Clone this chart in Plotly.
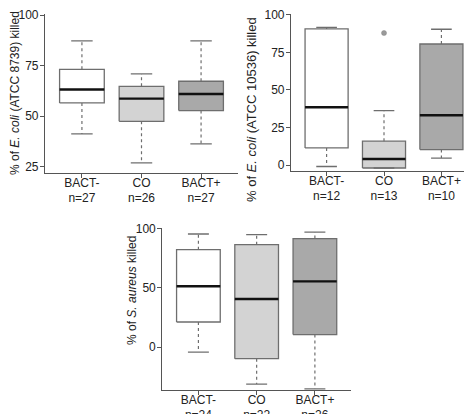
import plotly.graph_objects as go

groups = ["BACT-", "CO", "BACT+"]
fills = ["#ffffff", "#d3d3d3", "#a9a9a9"]

# Panel 1: E. coli ATCC 8739
p1_n = [27, 26, 27]
p1_low = [41.3, 27.0, 36.4]
p1_q1 = [56.6, 47.5, 52.8]
p1_med = [63.2, 58.7, 61.0]
p1_q3 = [73.2, 64.8, 67.3]
p1_high = [87.2, 70.9, 87.2]
p1_out = [[], [], []]

# Panel 2: E. coli ATCC 10536
p2_n = [12, 13, 10]
p2_low = [-0.8, -1.8, 4.8]
p2_q1 = [11.5, -1.8, 10.4]
p2_med = [38.5, 4.2, 33.2]
p2_q3 = [90.5, 16.0, 80.5]
p2_high = [91.6, 36.3, 90.3]
p2_out = [[], [87.8], []]

# Panel 3: S. aureus
p3_n = [24, 22, 26]
p3_low = [-4.0, -31.0, -35.0]
p3_q1 = [21.3, -9.6, 10.7]
p3_med = [51.4, 40.7, 55.6]
p3_q3 = [82.3, 86.5, 91.6]
p3_high = [95.5, 95.0, 97.0]
p3_out = [[], [], []]

yticks1 = [25, 50, 75, 100]
yticks2 = [0, 25, 50, 75, 100]
yticks3 = [0, 50, 100]

W, H = 472, 414
panels = [
    dict(n=p1_n, low=p1_low, q1=p1_q1, med=p1_med, q3=p1_q3, high=p1_high, out=p1_out,
         title="% of <i>E. coli</i> (ATCC 8739) killed", yticks=yticks1, yr=[22.0, 100.3],
         xd=[37, 230], yd=[165, 6.4], tpos=(7, 85), tsize=12),
    dict(n=p2_n, low=p2_low, q1=p2_q1, med=p2_med, q3=p2_q3, high=p2_high, out=p2_out,
         title="% of <i>E. coli</i> (ATCC 10536) killed", yticks=yticks2, yr=[-4.0, 100.3],
         xd=[283, 469], yd=[163.3, 6.2], tpos=(244, 101), tsize=13),
    dict(n=p3_n, low=p3_low, q1=p3_q1, med=p3_med, q3=p3_q3, high=p3_high, out=p3_out,
         title="% of <i>S. aureus</i> killed", yticks=yticks3, yr=[-36.0, 100.3],
         xd=[154.3, 343], yd=[382, 220.3], tpos=(124, 283), tsize=12),
]

BW = 0.375   # half box width
CW = 0.18    # half cap width
outline = "#6e6e6e"
axcol = "#555555"
txtcol = "#222222"
font = "Liberation Sans, Arial, sans-serif"

fig = go.Figure()
layout = dict(width=W, height=H, margin=dict(l=0, r=0, t=0, b=0),
              template="none",
              plot_bgcolor="white", paper_bgcolor="white", showlegend=False,
              font=dict(family=font, size=13, color=txtcol))
annotations = []

for k, p in enumerate(panels):
    sfx = "" if k == 0 else str(k + 1)
    xa, ya = "x" + sfx, "y" + sfx
    for i in range(3):
        xc = i + 1
        fig.add_trace(go.Scatter(
            x=[xc - BW, xc + BW, xc + BW, xc - BW, xc - BW],
            y=[p["q1"][i], p["q1"][i], p["q3"][i], p["q3"][i], p["q1"][i]],
            fill="toself", fillcolor=fills[i], mode="lines",
            line=dict(color=outline, width=1.3), xaxis=xa, yaxis=ya, hoverinfo="skip"))
        fig.add_trace(go.Scatter(
            x=[xc, xc, None, xc, xc],
            y=[p["q3"][i], p["high"][i], None, p["q1"][i], p["low"][i]],
            mode="lines", line=dict(color=outline, width=1.2, dash="dot"),
            xaxis=xa, yaxis=ya, hoverinfo="skip"))
        fig.add_trace(go.Scatter(
            x=[xc - CW, xc + CW, None, xc - CW, xc + CW],
            y=[p["high"][i], p["high"][i], None, p["low"][i], p["low"][i]],
            mode="lines", line=dict(color=outline, width=1.3),
            xaxis=xa, yaxis=ya, hoverinfo="skip"))
        fig.add_trace(go.Scatter(
            x=[xc - BW, xc + BW], y=[p["med"][i], p["med"][i]],
            mode="lines", line=dict(color="#111111", width=2.4),
            xaxis=xa, yaxis=ya, hoverinfo="skip"))
        if p["out"][i]:
            fig.add_trace(go.Scatter(
                x=[xc] * len(p["out"][i]), y=p["out"][i], mode="markers",
                marker=dict(color="#9a9a9a", size=5, line=dict(color="#888", width=0.5)),
                xaxis=xa, yaxis=ya, hoverinfo="skip"))
    ticktext = [f"{g}<br>n={n}" for g, n in zip(groups, p["n"])]
    layout["xaxis" + sfx] = dict(
        domain=[p["xd"][0] / W, p["xd"][1] / W], range=[0.38, 3.62], anchor=ya,
        tickvals=[1, 2, 3], ticktext=ticktext, ticks="outside", ticklen=4,
        tickcolor=axcol, showline=True, linecolor=axcol, linewidth=1.2,
        showgrid=False, zeroline=False, automargin=False,
        ticklabelstandoff=-6, ticklabeloverflow="allow",
        tickfont=dict(size=12, color=txtcol))
    layout["yaxis" + sfx] = dict(
        domain=[1 - p["yd"][0] / H, 1 - p["yd"][1] / H], range=p["yr"], anchor=xa,
        tickvals=p["yticks"], ticks="outside", ticklen=4, tickcolor=axcol,
        showline=True, linecolor=axcol, linewidth=1.2, showgrid=False,
        zeroline=False, automargin=False, ticklabeloverflow="allow",
        ticklabelstandoff=-1,
        tickfont=dict(size=12, color=txtcol))
    annotations.append(dict(
        text=p["title"], xref="paper", yref="paper",
        x=p["tpos"][0] / W, y=1 - p["tpos"][1] / H, xanchor="center", yanchor="middle",
        textangle=-90, showarrow=False, font=dict(size=p["tsize"], color=txtcol)))

layout["annotations"] = annotations
fig.update_layout(**layout)
fig.write_html("out.html")
